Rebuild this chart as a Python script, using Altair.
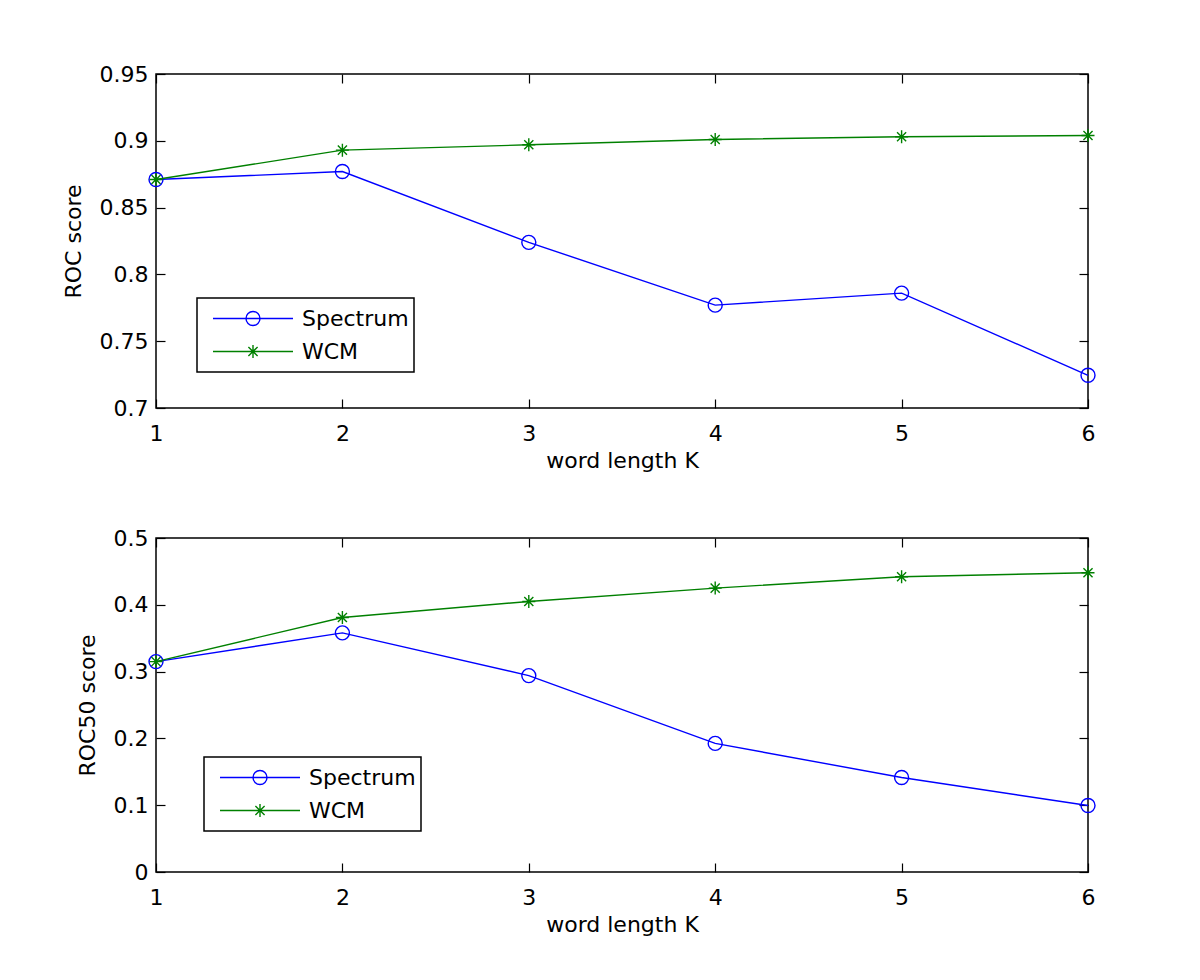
import altair as alt
import pandas as pd

# ---- data ----
K = [1, 2, 3, 4, 5, 6]
roc_spectrum = [0.871, 0.877, 0.824, 0.777, 0.786, 0.7245]
roc_wcm = [0.871, 0.893, 0.897, 0.901, 0.903, 0.904]
roc50_spectrum = [0.315, 0.358, 0.294, 0.1925, 0.1415, 0.0995]
roc50_wcm = [0.315, 0.381, 0.405, 0.425, 0.442, 0.448]
series_names = ["Spectrum", "WCM"]
roc_ticks = [0.7, 0.75, 0.8, 0.85, 0.9, 0.95]
roc50_ticks = [0.0, 0.1, 0.2, 0.3, 0.4, 0.5]

W, H = 932, 334
FONT = "DejaVu Sans"
FS = 22
BLUE = "#0000ff"
GREEN = "#008000"
LW = 1.4

CIRCLE_LEG = "M-1,0L1,0M0.175,0A0.175,0.175 0 1,1 -0.175,0A0.175,0.175 0 1,1 0.175,0"
STAR_LEG = "M-1,0L1,0M0,-0.1625L0,0.1625M-0.115,-0.115L0.115,0.115M-0.115,0.115L0.115,-0.115"
STAR = "M-1,0L1,0M0,-1L0,1M-0.7,-0.7L0.7,0.7M-0.7,0.7L0.7,-0.7"


def make_df(spec, wcm):
    rows = []
    for k, v in zip(K, spec):
        rows.append({"K": k, "value": v, "series": "Spectrum"})
    for k, v in zip(K, wcm):
        rows.append({"K": k, "value": v, "series": "WCM"})
    return pd.DataFrame(rows)


def tick_axis(orient, offset, values):
    return alt.Axis(orient=orient, offset=offset, values=values, labels=False,
                    ticks=True, tickSize=9, tickColor="black", tickWidth=1.2,
                    domain=False, grid=False, title=None)


def panel(spec, wcm, ylabel, ydomain, yticks, fmt, lx, ly):
    df = make_df(spec, wcm)
    xs = alt.Scale(domain=[1, 6], nice=False, zero=False)
    ys = alt.Scale(domain=ydomain, nice=False, zero=False)

    xlab = alt.Axis(orient="bottom", values=K, format="d", labelFlush=False,
                    ticks=False, tickSize=0, domain=False, grid=False,
                    labelPadding=15, labelFont=FONT, labelFontSize=FS,
                    labelColor="black", title="word length K", titlePadding=6,
                    titleFont=FONT, titleFontSize=FS, titleFontWeight="normal",
                    titleColor="black")
    ylab = alt.Axis(orient="left", values=yticks, format=fmt, ticks=False,
                    tickSize=0, domain=False, grid=False, labelPadding=8,
                    labelFont=FONT, labelFontSize=FS, labelColor="black",
                    title=ylabel, titlePadding=14, titleFont=FONT,
                    titleFontSize=FS, titleFontWeight="normal", titleColor="black")

    base = alt.Chart(df)
    is_s = alt.datum.series == "Spectrum"
    is_w = alt.datum.series == "WCM"

    line_s = base.transform_filter(is_s).mark_line(color=BLUE, strokeWidth=LW).encode(
        x=alt.X("K:Q", scale=xs, axis=xlab),
        y=alt.Y("value:Q", scale=ys, axis=ylab))
    pts_s = base.transform_filter(is_s).mark_point(
        shape="circle", size=196, filled=False, color=BLUE, strokeWidth=LW, opacity=1
    ).encode(
        x=alt.X("K:Q", scale=xs, axis=tick_axis("top", -H, K)),
        y=alt.Y("value:Q", scale=ys, axis=tick_axis("right", -W, yticks)))
    line_w = base.transform_filter(is_w).mark_line(color=GREEN, strokeWidth=LW).encode(
        x=alt.X("K:Q", scale=xs, axis=tick_axis("bottom", -H, K)),
        y=alt.Y("value:Q", scale=ys, axis=tick_axis("left", -W, yticks)))
    pts_w = base.transform_filter(is_w).mark_point(
        shape=STAR, size=169, filled=False, color=GREEN, strokeWidth=LW, opacity=1
    ).encode(
        x=alt.X("K:Q", scale=xs, axis=None),
        y=alt.Y("value:Q", scale=ys, axis=None))

    leg = alt.Legend(orient="none", legendX=lx, legendY=ly, title=None,
                     strokeColor="black", fillColor="white", padding=5,
                     symbolSize=6400, symbolStrokeWidth=LW, symbolOffset=10,
                     labelOffset=8, clipHeight=31, rowPadding=2,
                     labelFont=FONT, labelFontSize=FS, labelColor="black")
    legend_layer = base.transform_filter("false").mark_point(
        filled=False, strokeWidth=LW, opacity=1
    ).encode(
        x=alt.X("K:Q", scale=xs, axis=None),
        y=alt.Y("value:Q", scale=ys, axis=None),
        color=alt.Color("series:N", scale=alt.Scale(domain=series_names, range=[BLUE, GREEN]), legend=leg),
        shape=alt.Shape("series:N", scale=alt.Scale(domain=series_names, range=[CIRCLE_LEG, STAR_LEG]), legend=leg))

    return alt.layer(line_s, pts_s, line_w, pts_w, legend_layer).resolve_axis(
        x="independent", y="independent").properties(width=W, height=H)


top = panel(roc_spectrum, roc_wcm, "ROC score", [0.7, 0.95], roc_ticks, ".2~f", 41, 224)
bottom = panel(roc50_spectrum, roc50_wcm, "ROC50 score", [0, 0.5], roc50_ticks, ".1~f", 48, 219)

chart = alt.vconcat(top, bottom, spacing=130, bounds="flush").resolve_scale(
    color="independent", shape="independent"
).resolve_legend(
    color="independent", shape="independent"
).properties(
    padding={"top": 54, "left": 53, "right": 5, "bottom": 5},
    background="white",
).configure_view(stroke="black", strokeWidth=1.5).configure_legend(strokeWidth=1.5)

chart.save("out.html", embed_options={"renderer": "svg", "actions": False})
